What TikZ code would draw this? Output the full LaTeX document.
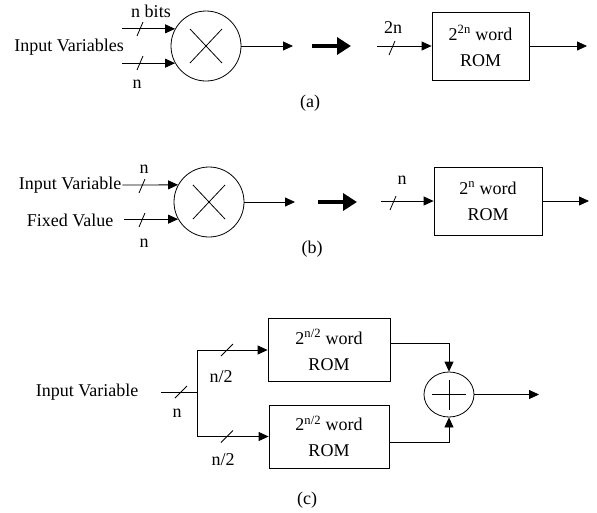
\documentclass[tikz,border=0pt]{standalone}
\usepackage{fontspec}
\setmainfont{Liberation Serif}
\usetikzlibrary{arrows.meta,shapes.geometric}

\tikzset{
  sig/.style={-{Triangle[length=10pt,width=9pt]}, line width=0.8pt},
  bigarrow/.style={-{Triangle[length=14pt,width=17pt]}, line width=4pt},
  romblock/.style={draw, line width=0.8pt, align=center, inner sep=0pt},
  txt/.style={inner sep=1pt},
  mult/.style={draw, circle, line width=0.8pt, minimum size=70pt, inner sep=0pt,
    path picture={
      \draw[line width=0.8pt] ([shift={(-16pt,-17pt)}]path picture bounding box.center)
        -- ([shift={(16pt,17pt)}]path picture bounding box.center)
        ([shift={(-16pt,17pt)}]path picture bounding box.center)
        -- ([shift={(16pt,-17pt)}]path picture bounding box.center);}},
  adder/.style={draw, ellipse, line width=0.8pt, minimum width=50pt, minimum height=45pt, inner sep=0pt,
    path picture={
      \draw[line width=0.8pt] ([xshift=-17pt]path picture bounding box.center)
        -- ([xshift=17pt]path picture bounding box.center)
        ([yshift=-15pt]path picture bounding box.center)
        -- ([yshift=15pt]path picture bounding box.center);}},
  bus/.pic={\draw[line width=0.8pt] (-3,7) -- (3,-7);},
  widebus/.pic={\draw[line width=0.8pt] (-6,6) -- (6,-6);}
}

\begin{document}
\begin{tikzpicture}[x=1pt, y=-1pt, font=\fontsize{18}{26}\selectfont]
\useasboundingbox (0,0) rectangle (597,512);

% (a)
\node[mult] (mulA) at (206,46) {};
\node[txt] (varsA) at (69,47) {Input Variables};
\node[txt] (bitsA) at (151,11) {n bits};
\node[txt] (nA) at (137,84) {n};
\draw[sig] ([xshift=-53pt]mulA.151) -- (mulA.151);
\draw[sig] ([xshift=-53pt]mulA.209) -- (mulA.209);
\pic at (140,29) {bus};
\pic at (140,63) {bus};
\coordinate (outA) at (293,46);
\draw[sig] (mulA.east) -- (outA);
\coordinate (thA1) at (312,46);
\coordinate (thA2) at (351,46);
\draw[bigarrow] (thA1) -- (thA2);
\node[romblock, minimum width=97pt, minimum height=68pt] (romA) at (480.5,46) {2\textsuperscript{2n} word\\ROM};
\coordinate (inA) at (377,46);
\draw[sig] (inA) -- (romA.west);
\pic at (392,48) {bus};
\node[txt] (twonA) at (393,28) {2n};
\coordinate (outA2) at (587,46);
\draw[sig] (romA.east) -- (outA2);
\node[txt] (capA) at (310,103) {(a)};

% (b)
\node[mult] (mulB) at (209,202) {};
\node[txt] (varB) at (70,185) {Input Variable};
\node[txt] (fixB) at (70,220) {Fixed Value};
\draw[sig] (varB.east) -- (mulB.151);
\draw[sig] ([xshift=-54pt]mulB.209) -- (mulB.209);
\pic at (142,186) {bus};
\pic at (142,220) {bus};
\node[txt] (nB1) at (144,169) {n};
\node[txt] (nB2) at (144,243) {n};
\coordinate (outB) at (295,202);
\draw[sig] (mulB.east) -- (outB);
\coordinate (thB1) at (318,202);
\coordinate (thB2) at (357,202);
\draw[bigarrow] (thB1) -- (thB2);
\node[romblock, minimum width=108pt, minimum height=68pt] (romB) at (488,201) {2\textsuperscript{n} word\\ROM};
\coordinate (inB) at (381,201);
\draw[sig] (inB) -- (romB.west);
\pic at (393,203) {bus};
\node[txt] (nB3) at (402,180) {n};
\coordinate (outB2) at (589,201);
\draw[sig] (romB.east) -- (outB2);
\node[txt] (capB) at (312,249) {(b)};

% (c)
\node[txt] (varC) at (87,392) {Input Variable};
\coordinate (inC) at (161,392);
\coordinate (fork) at (197,392);
\draw[line width=0.8pt] (inC) -- (fork);
\pic at (181,392) {widebus};
\node[txt] (nC) at (177,413) {n};
\node[romblock, minimum width=122pt, minimum height=63pt] (romC1) at (329,350) {2\textsuperscript{n/2} word\\ROM};
\node[romblock, minimum width=120pt, minimum height=63pt] (romC2) at (329,436.5) {2\textsuperscript{n/2} word\\ROM};
\draw[sig] (fork) |- (romC1.west);
\draw[sig] (fork) |- (romC2.west);
\pic at (227,350) {widebus};
\pic at (227,436.5) {widebus};
\node[txt] (halfC1) at (221,377) {n/2};
\node[txt] (halfC2) at (223,460) {n/2};
\node[adder] (addC) at (449,394.5) {};
\draw[sig] (romC1.east |- 0,343) -| (addC.north);
\draw[sig] (romC2.east |- 0,442) -| (addC.south);
\coordinate (outC) at (539,394.5);
\draw[sig] (addC.east) -- (outC);
\node[txt] (capC) at (307,500) {(c)};
\end{tikzpicture}
\end{document}
